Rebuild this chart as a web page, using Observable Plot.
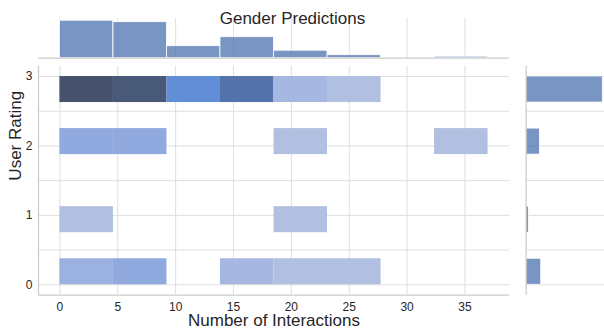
<!DOCTYPE html>
<html>
<head>
<meta charset="utf-8">
<script src="https://cdn.jsdelivr.net/npm/d3@7"></script>
<script src="https://cdn.jsdelivr.net/npm/@observablehq/plot@0.6"></script>
<style>
  html, body { margin: 0; padding: 0; background: #fff; }
  #chart { position: relative; width: 604px; height: 334px; overflow: hidden; }
  #chart svg { position: absolute; left: 0; top: 0; }
</style>
</head>
<body>
<div id="chart"></div>
<script>
// ---- data: 2-D histogram of interactions vs. rating (8 x 8 bins) ----
const interactionEdges = [0, 4.625, 9.25, 13.875, 18.5, 23.125, 27.75, 32.375, 37];
const ratingValues = [3, 2, 1, 0];
const ratingBinLow = [2.625, 1.875, 0.75, 0];
const ratingBinHigh = [3, 2.25, 1.125, 0.375];
// counts per interaction bin, one array per rating
const countsRating3 = [17, 16, 8, 12, 2, 1, 0, 0];
const countsRating2 = [4, 4, 0, 0, 1, 0, 0, 1];
const countsRating1 = [1, 0, 0, 0, 1, 0, 0, 0];
const countsRating0 = [3, 4, 0, 2, 1, 1, 0, 0];
const xTicks = [0, 5, 10, 15, 20, 25, 30, 35];
const yTicks = [0, 0.5, 1, 1.5, 2, 2.5, 3];
const xDomain = [-1.85, 38.85];
const yDomain = [-0.15, 3.15];

const title = "Gender Predictions";
const xLabel = "Number of Interactions";
const yLabel = "User Rating";
const baseColor = "#4c72b0";

// ---- HUSL helpers (for the light-to-dark ramp built from the base colour) ----
const M = [[3.240454162114103, -1.537138512797715, -0.49853140955601],
           [-0.96926603050518, 1.876010845446694, 0.041556017530349],
           [0.055643430959114, -0.20402591351675, 1.057225188223179]];
const M_INV = [[0.41245643908969, 0.3575760776439, 0.18043748326639],
               [0.21267285140562, 0.71515215528781, 0.072174993306559],
               [0.019333895582329, 0.1191920258813, 0.95030407853636]];
const refY = 1.0, refU = 0.19784, refV = 0.46834, labE = 0.008856, labK = 903.3;

function maxChroma(L, H) {
  const hrad = H / 180 * Math.PI, sinH = Math.sin(hrad), cosH = Math.cos(hrad);
  const sub1 = Math.pow(L + 16, 3) / 1560896;
  const sub2 = sub1 > 0.008856 ? sub1 : L / 903.3;
  let result = Infinity;
  for (const [m1, m2, m3] of M) {
    const tp = (0.99915 * m1 + 1.05122 * m2 + 1.14460 * m3) * sub2;
    const rb = 0.86330 * m3 - 0.17266 * m2;
    const lb = 0.12949 * m3 - 0.38848 * m1;
    const bottom = (rb * sinH + lb * cosH) * sub2;
    for (const t of [0, 1]) {
      const C = L * (tp - 1.05122 * t) / (bottom + 0.17266 * sinH * t);
      if (C > 0 && C < result) result = C;
    }
  }
  return result;
}
const dot = (a, b) => a[0] * b[0] + a[1] * b[1] + a[2] * b[2];
const fromLinear = c => c <= 0.0031308 ? 12.92 * c : 1.055 * Math.pow(c, 1 / 2.4) - 0.055;
const toLinear = c => c > 0.04045 ? Math.pow((c + 0.055) / 1.055, 2.4) : c / 12.92;
const fInv = t => Math.pow(t, 3) > labE ? Math.pow(t, 3) : (116 * t - 16) / labK;
const fFwd = t => t > labE ? Math.pow(t, 1 / 3) : 7.787 * t + 16 / 116;

function huslToRgb(H, S, L) {
  let C;
  if (L > 99.9999999) { L = 100; C = 0; }
  else if (L < 1e-8) { L = 0; C = 0; }
  else C = maxChroma(L, H) / 100 * S;
  const hrad = H / 180 * Math.PI;
  const U = Math.cos(hrad) * C, V = Math.sin(hrad) * C;
  if (L === 0) return [0, 0, 0];
  const varY = fInv((L + 16) / 116);
  const varU = U / (13 * L) + refU, varV = V / (13 * L) + refV;
  const Y = varY * refY;
  const X = -(9 * Y * varU) / ((varU - 4) * varV - varU * varV);
  const Z = (9 * Y - 15 * varV * Y - varV * X) / (3 * varV);
  return M.map(row => fromLinear(dot(row, [X, Y, Z])));
}
function rgbToHusl(r, g, b) {
  const lin = [r, g, b].map(toLinear);
  const [X, Y, Z] = M_INV.map(row => dot(row, lin));
  const den = X + 15 * Y + 3 * Z;
  const L = 116 * fFwd(Y / refY) - 16;
  const U = 13 * L * (4 * X / den - refU), V = 13 * L * (9 * Y / den - refV);
  const C = Math.hypot(U, V);
  let H = Math.atan2(V, U) * 180 / Math.PI;
  if (H < 0) H += 360;
  return [H, C / maxChroma(L, H) * 100, L];
}

// 256-step ramp: light/desaturated at the low end, dark at the high end
const rampColors = (() => {
  const c = d3.rgb(baseColor);
  const [h, s] = rgbToHusl(c.r / 255, c.g / 255, c.b / 255);
  const n = 256, m = Math.floor(1.15 * 256);
  const out = [];
  for (let i = 0; i < n; i++) {
    const xx = -1 + 2 * i / (m - 1);
    const rgb = huslToRgb(h, s * Math.cos(xx), 35 + 45 * i / (n - 1))
      .map(v => Math.round(Math.max(0, Math.min(1, v)) * 255));
    out.push(`rgb(${rgb[0]},${rgb[1]},${rgb[2]})`);
  }
  return out.reverse();
})();
const ramp = t => rampColors[Math.max(0, Math.min(255, Math.floor(t * 256)))];

// ---- tables built from the arrays ----
const countRows = [countsRating3, countsRating2, countsRating1, countsRating0];
const cells = [];
countRows.forEach((row, r) => row.forEach((count, i) => {
  if (count > 0) cells.push({
    x1: interactionEdges[i], x2: interactionEdges[i + 1],
    y1: ratingBinLow[r], y2: ratingBinHigh[r], count
  });
}));
const xBins = interactionEdges.slice(0, -1).map((e, i) => ({
  x1: e, x2: interactionEdges[i + 1],
  total: d3.sum(countRows, row => row[i])
})).filter(d => d.total > 0);
const yBins = countRows.map((row, r) => ({
  rating: ratingValues[r], y1: ratingBinLow[r], y2: ratingBinHigh[r], total: d3.sum(row)
}));
const maxCount = d3.max(cells, d => d.count);

const gridColor = "#dedede";
const spineColor = "#cccccc";
const plotStyle = {
  background: "transparent",
  fontFamily: "'Liberation Sans', Arial, sans-serif",
  fontSize: "12px",
  color: "#262626",
  overflow: "visible"
};

// ---- joint panel ----
const mainPlot = Plot.plot({
  width: 604, height: 334,
  marginLeft: 38, marginRight: 95, marginTop: 65.6, marginBottom: 39.3,
  x: {domain: xDomain},
  y: {domain: yDomain},
  color: {type: "linear", domain: [0, maxCount], interpolate: ramp},
  style: plotStyle,
  marks: [
    Plot.gridX(xTicks, {stroke: gridColor, strokeOpacity: 1, strokeWidth: 1}),
    Plot.gridY(yTicks, {stroke: gridColor, strokeOpacity: 1, strokeWidth: 1}),
    Plot.rect(cells, {x1: "x1", x2: "x2", y1: "y1", y2: "y2", fill: "count"}),
    Plot.ruleX([xDomain[0]], {stroke: spineColor, strokeWidth: 1.25}),
    Plot.ruleY([yDomain[0]], {stroke: spineColor, strokeWidth: 1.25}),
    Plot.axisX(xTicks, {tickSize: 0, tickPadding: 7, label: null}),
    Plot.axisY(yTicks, {tickSize: 0, tickPadding: 6, label: null,
      tickFormat: d => Number.isInteger(d) ? String(d) : ""}),
    Plot.text([xLabel], {frameAnchor: "bottom", lineAnchor: "middle", dy: 25.6, fontSize: 17, fill: "#262626"}),
    Plot.text([yLabel], {frameAnchor: "left", lineAnchor: "middle", dx: -22.5, rotate: -90, fontSize: 17, fill: "#262626"})
  ]
});

// ---- marginal histogram of interactions (top) ----
const topPlot = Plot.plot({
  width: 604, height: 60,
  marginLeft: 38, marginRight: 95, marginTop: 18.3, marginBottom: 2.3,
  x: {domain: xDomain, axis: null},
  y: {domain: [0, d3.max(xBins, d => d.total) * 1.05], axis: null},
  style: plotStyle,
  marks: [
    Plot.gridX(xTicks, {stroke: gridColor, strokeOpacity: 1, strokeWidth: 1}),
    Plot.rectY(xBins, {x1: "x1", x2: "x2", y1: 0, y2: "total",
      fill: baseColor, fillOpacity: 0.75, stroke: "white", strokeWidth: 0.8}),
    Plot.ruleY([0], {stroke: spineColor, strokeWidth: 1.25}),
    Plot.text([title], {frameAnchor: "top", lineAnchor: "middle", dx: 18.5, dy: 0, fontSize: 17, fill: "#262626"})
  ]
});

// ---- marginal histogram of ratings (right) ----
const rightPlot = Plot.plot({
  width: 604, height: 334,
  marginLeft: 525.7, marginRight: 0, marginTop: 65.6, marginBottom: 39.3,
  x: {domain: [0, d3.max(yBins, d => d.total) * 1.022], axis: null},
  y: {domain: yDomain, axis: null},
  style: plotStyle,
  marks: [
    Plot.gridY(yTicks, {stroke: gridColor, strokeOpacity: 1, strokeWidth: 1}),
    Plot.rectX(yBins, {y1: "y1", y2: "y2", x1: 0, x2: "total",
      fill: baseColor, fillOpacity: 0.75, stroke: "white", strokeWidth: 0.8}),
    Plot.ruleX([0], {stroke: spineColor, strokeWidth: 1.25})
  ]
});

document.getElementById("chart").append(mainPlot, rightPlot, topPlot);
</script>
</body>
</html>
